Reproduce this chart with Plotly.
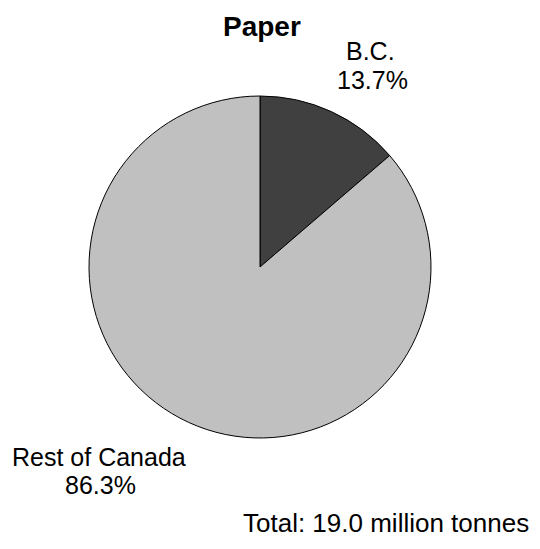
import plotly.graph_objects as go

labels = ["B.C.", "Rest of Canada"]
shares = [13.7, 86.3]
colors = ["#404040", "#c0c0c0"]
title = "Paper"
total_note = "Total: 19.0 million tonnes"

W, H = 540, 549
OFF = 8  # page body margin offset
cx, cy, r = 260 - OFF, 267 - OFF, 171

fig = go.Figure(go.Pie(
    labels=labels, values=shares, sort=False, direction="clockwise", rotation=0,
    marker=dict(colors=colors, line=dict(color="#000000", width=1)),
    textinfo="none", hoverinfo="label+percent", showlegend=False,
    domain=dict(x=[(cx - r) / W, (cx + r) / W], y=[1 - (cy + r) / H, 1 - (cy - r) / H]),
))

font = dict(family="Liberation Sans, Arial", size=25, color="#000000")
def ann(text, x, y, f=font):
    fig.add_annotation(text=text, x=(x - OFF) / W, y=1 - (y - OFF) / H, xref="paper", yref="paper",
                       xanchor="center", yanchor="middle", showarrow=False, font=f)

ann("<b>" + title + "</b>", 262, 27, dict(family="Liberation Sans, Arial", size=28, color="#000000"))
ann(labels[0], 370, 51)
ann(f"{shares[0]:.1f}%", 372, 80)
ann(labels[1], 99, 457)
ann(f"{shares[1]:.1f}%", 100, 485)
ann(total_note, 386, 523, dict(family="Liberation Sans, Arial", size=26, color="#000000"))

fig.update_layout(width=W, height=H, margin=dict(l=0, r=0, t=0, b=0),
                  paper_bgcolor="white", plot_bgcolor="white")
fig.write_html("out.html")
